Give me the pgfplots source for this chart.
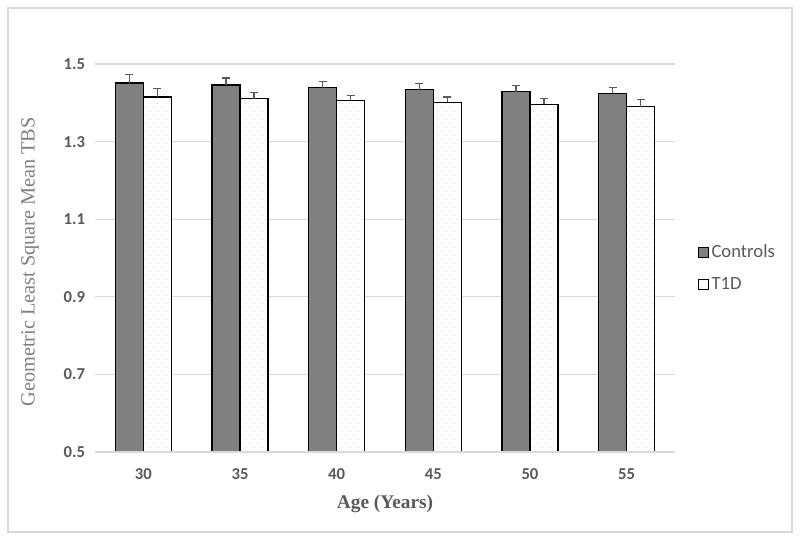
\documentclass[border=0pt]{standalone}
\usepackage{fontspec}
\setmainfont{Liberation Serif}
\newfontfamily\calib{Carlito}
\usepackage{pgfplots}
\pgfplotsset{compat=1.18}
\usetikzlibrary{patterns.meta}
\definecolor{txt}{HTML}{595959}
\definecolor{lbl}{HTML}{7F7F7F}
\definecolor{gridc}{HTML}{D9D9D9}
\definecolor{ctrl}{HTML}{808080}
\tikzdeclarepattern{
  name=sdots,
  type=uncolored,
  bottom left={(0pt,0pt)},
  top right={(6pt,6pt)},
  tile size={(6pt,6pt)},
  code={\fill (1.5pt,1.5pt) circle (0.4pt); \fill (4.5pt,4.5pt) circle (0.4pt);}
}
\begin{document}
\begin{tikzpicture}
\path[use as bounding box] (-71.25pt,-66pt) rectangle (528.75pt,339pt);
\draw[gridc, line width=0.8pt] (-65.25pt,-60pt) rectangle (522.75pt,333pt);
\begin{axis}[
  scale only axis, width=435pt, height=291pt,
  xmin=-0.5, xmax=5.5, ymin=0.5, ymax=1.5,
  ybar=0pt, bar width=0.29,
  ytick={0.5,0.7,0.9,1.1,1.3,1.5},
  /pgf/number format/fixed, /pgf/number format/fixed zerofill, /pgf/number format/precision=1,
  xtick={0,1,2,3,4,5}, xticklabels={30,35,40,45,50,55},
  major tick length=0pt,
  axis line style={draw=none},
  ymajorgrids, grid style={gridc, line width=0.8pt},
  /pgf/number format/assume math mode=true,
  tick label style={font=\calib\bfseries\fontsize{12.5}{14}\selectfont, text=txt},
  xticklabel style={yshift=-9pt},
  yticklabel style={xshift=-4pt},
  xlabel={\bfseries Age (Years)},
  ylabel={Geometric Least Square Mean TBS},
  xlabel style={at={(axis description cs:0.5,0)}, anchor=center, yshift=-39pt, font=\fontsize{14.5}{16}\selectfont, text=txt},
  ylabel style={at={(axis description cs:-0.112,0.49)}, anchor=center, font=\fontsize{15.2}{17}\selectfont, text=lbl},
  legend style={at={(1,0.5)}, anchor=west, xshift=14pt, yshift=-7.5pt, draw=none, fill=none,
    font=\calib\fontsize{14}{16}\selectfont, text=txt, row sep=9pt},
  legend cell align=left,
  legend image code/.code={\draw[#1, draw=black, line width=0.8pt] (0cm,-0.13cm) rectangle (0.26cm,0.13cm);},
  error bars/error bar style={color=txt, line width=0.8pt},
  error bars/error mark options={rotate=90, mark size=3pt, line width=0.8pt, color=txt},
]
\addplot[fill=ctrl, draw=black, line width=1pt,
  error bars/.cd, y dir=plus, y explicit]
  coordinates {(0,1.451) +- (0,0.021) (1,1.446) +- (0,0.018) (2,1.439) +- (0,0.017)
               (3,1.434) +- (0,0.015) (4,1.429) +- (0,0.015) (5,1.424) +- (0,0.016)};
\addlegendentry{Controls}
\addplot[fill=white, draw=black, line width=1pt, postaction={pattern={sdots}, pattern color=black!25},
  error bars/.cd, y dir=plus, y explicit]
  coordinates {(0,1.415) +- (0,0.022) (1,1.411) +- (0,0.016) (2,1.406) +- (0,0.012)
               (3,1.401) +- (0,0.014) (4,1.396) +- (0,0.014) (5,1.390) +- (0,0.018)};
\addlegendentry{T1D}
\draw[gridc, line width=1.4pt] (axis cs:-0.5,0.5) -- (axis cs:5.5,0.5);
\end{axis}
\end{tikzpicture}
\end{document}
